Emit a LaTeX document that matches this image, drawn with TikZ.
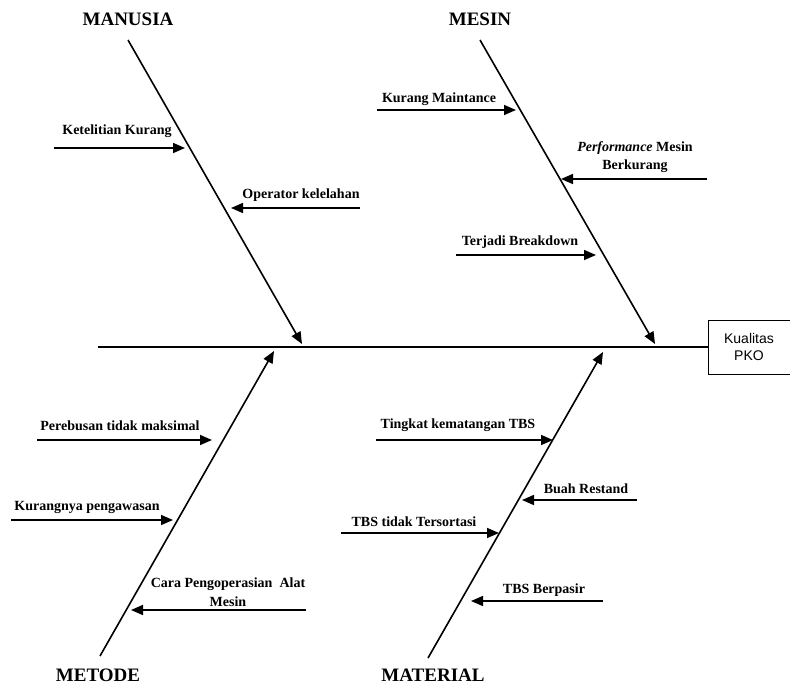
\documentclass[tikz,border=0pt]{standalone}
\usepackage{fontspec}
\setmainfont{Liberation Serif}
\newfontfamily\boxfont{Liberation Sans}
\usetikzlibrary{arrows.meta}
\begin{document}
\begin{tikzpicture}[x=1pt,y=-1pt,
  bone/.style={line width=1.6pt,-{Triangle[length=12pt,width=10pt]}},
  spine/.style={line width=1.8pt},
  cause/.style={font=\fontsize{14}{18.5}\selectfont\bfseries,align=center,inner sep=0pt},
  head/.style={font=\fontsize{19}{21}\selectfont\bfseries,inner sep=0pt},
  effect/.style={draw,line width=1pt,minimum width=82pt,minimum height=54pt,align=center,font=\boxfont\fontsize{14}{16.5}\selectfont,inner sep=0pt}]
\useasboundingbox (0,0) rectangle (790,685);
% effect box
\node[effect] (box) at (749,347) {Kualitas\\PKO};
\coordinate (spL) at (98,347);
\draw[spine] (spL) -- (box.west);
% main bones
\coordinate (manS) at (128,40);  \coordinate (manE) at (302,344);
\coordinate (mesS) at (480,40);  \coordinate (mesE) at (655,344);
\coordinate (metS) at (100,656); \coordinate (metE) at (274,351);
\coordinate (matS) at (428,658); \coordinate (matE) at (603,352);
\draw[bone] (manS) -- (manE);
\draw[bone] (mesS) -- (mesE);
\draw[bone] (metS) -- (metE);
\draw[bone] (matS) -- (matE);
\node[head] (hMan) at (128,19) {MANUSIA};
\node[head] (hMes) at (480,19) {MESIN};
\node[head] (hMet) at (98,675) {METODE};
\node[head] (hMat) at (433,675) {MATERIAL};
% MANUSIA causes
\coordinate (a1s) at (54,148);  \coordinate (a1e) at (185,148);
\draw[bone] (a1s) -- (a1e);
\node[cause] (t1) at (117,131) {Ketelitian Kurang};
\coordinate (a2s) at (360,208); \coordinate (a2e) at (231,208);
\draw[bone] (a2s) -- (a2e);
\node[cause] (t2) at (301,195) {Operator kelelahan};
% MESIN causes
\coordinate (b1s) at (377,110); \coordinate (b1e) at (516,110);
\draw[bone] (b1s) -- (b1e);
\node[cause] (u1) at (439,99) {Kurang Maintance};
\coordinate (b2s) at (707,179); \coordinate (b2e) at (561,179);
\draw[bone] (b2s) -- (b2e);
\node[cause] (u2) at (635,157) {\textit{Performance} Mesin\\Berkurang};
\coordinate (b3s) at (456,255); \coordinate (b3e) at (596,255);
\draw[bone] (b3s) -- (b3e);
\node[cause] (u3) at (520,242) {Terjadi Breakdown};
% METODE causes
\coordinate (c1s) at (37,440);  \coordinate (c1e) at (212,440);
\draw[bone] (c1s) -- (c1e);
\node[cause] (v1) at (120,426) {Perebusan tidak maksimal};
\coordinate (c2s) at (11,520);  \coordinate (c2e) at (173,520);
\draw[bone] (c2s) -- (c2e);
\node[cause] (v2) at (87,507) {Kurangnya pengawasan};
\coordinate (c3s) at (306,610); \coordinate (c3e) at (131,610);
\draw[bone] (c3s) -- (c3e);
\node[cause] (v3) at (228,592) {Cara Pengoperasian~ Alat\\Mesin};
% MATERIAL causes
\coordinate (d1s) at (376,440); \coordinate (d1e) at (553,440);
\draw[bone] (d1s) -- (d1e);
\node[cause] (w1) at (458,425) {Tingkat kematangan TBS};
\coordinate (d2s) at (637,500); \coordinate (d2e) at (522,500);
\draw[bone] (d2s) -- (d2e);
\node[cause] (w2) at (586,489) {Buah Restand};
\coordinate (d3s) at (341,533); \coordinate (d3e) at (499,533);
\draw[bone] (d3s) -- (d3e);
\node[cause] (w3) at (414,522) {TBS tidak Tersortasi};
\coordinate (d4s) at (603,601); \coordinate (d4e) at (471,601);
\draw[bone] (d4s) -- (d4e);
\node[cause] (w4) at (544,590) {TBS Berpasir};
\end{tikzpicture}
\end{document}
